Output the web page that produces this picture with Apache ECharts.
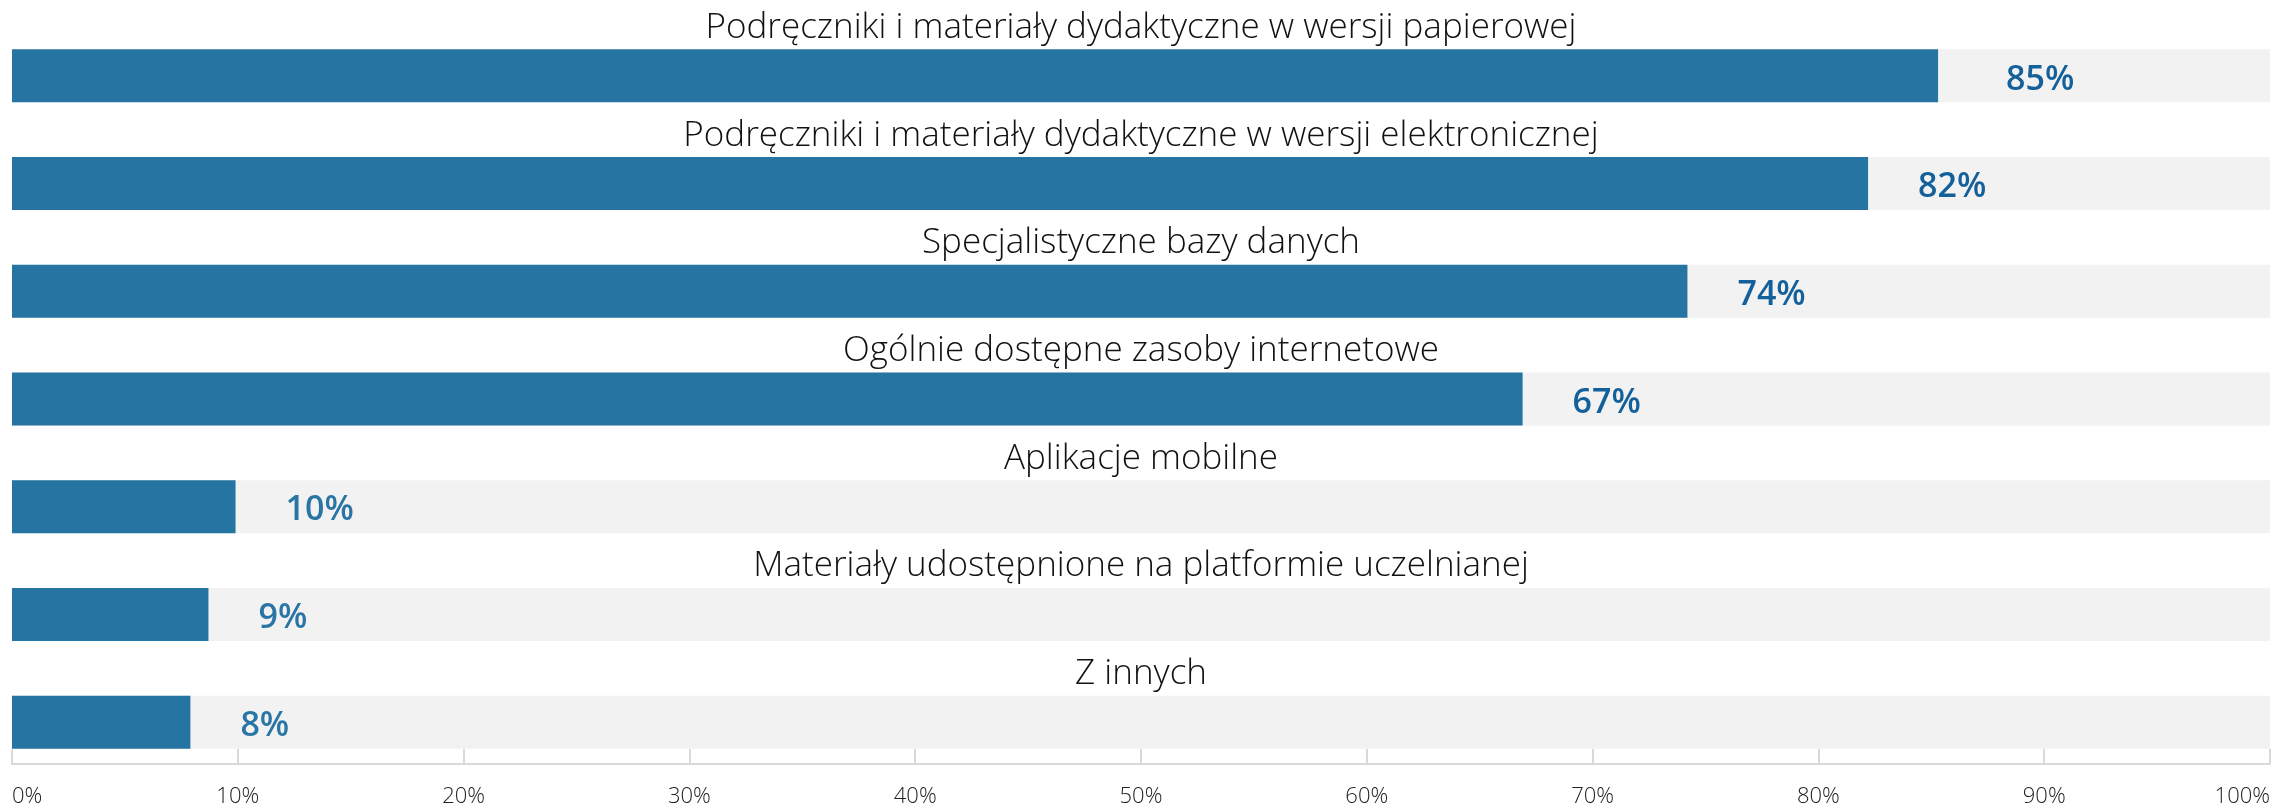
<!DOCTYPE html>
<html>
<head>
<meta charset="utf-8">
<script src="https://cdn.jsdelivr.net/npm/echarts@6/dist/echarts.min.js"></script>
<style>
html,body{margin:0;padding:0;background:#fff;}
#chart{width:2295px;height:808px;}
</style>
</head>
<body>
<div id="chart"></div>
<script>
var categories = [
  "Podręczniki i materiały dydaktyczne w wersji papierowej",
  "Podręczniki i materiały dydaktyczne w wersji elektronicznej",
  "Specjalistyczne bazy danych",
  "Ogólnie dostępne zasoby internetowe",
  "Aplikacje mobilne",
  "Materiały udostępnione na platformie uczelnianej",
  "Z innych"
];
var values = [85.3, 82.2, 74.2, 66.9, 9.9, 8.7, 7.9];
var valueLabels = ["85%", "82%", "74%", "67%", "10%", "9%", "8%"];
var fullScale = [100, 100, 100, 100, 100, 100, 100];
var xTicks = [0, 10, 20, 30, 40, 50, 60, 70, 80, 90, 100];

var darkLabel = "#14609a";
var lightLabel = "#2a75a6";

var chart = echarts.init(document.getElementById('chart'), null, {renderer: 'canvas'});
var option = {
  animation: false,
  grid: {left: 12, right: 25, top: 22, bottom: 30, containLabel: false},
  xAxis: {
    type: 'value', min: 0, max: 100, interval: 10,
    offset: -12,
    axisLine: {show: true, lineStyle: {color: '#d9d9d9', width: 2}},
    axisTick: {show: true, inside: true, length: 15, lineStyle: {color: '#d9d9d9', width: 2}},
    splitLine: {show: false},
    axisLabel: {
      formatter: function (v) { return xTicks.indexOf(v) >= 0 ? v + '%' : ''; },
      fontFamily: 'Open Sans', fontWeight: 300, fontSize: 22, color: '#222',
      margin: 22, alignMinLabel: 'left', alignMaxLabel: 'right'
    }
  },
  yAxis: {
    type: 'category', data: categories, inverse: true,
    axisLine: {show: false}, axisTick: {show: false}, axisLabel: {show: false}
  },
  series: [
    {
      type: 'bar', data: fullScale, barWidth: 53, silent: true,
      itemStyle: {color: '#f2f2f2'},
      label: {
        show: true, position: 'top', distance: 4,
        formatter: function (p) { return categories[p.dataIndex]; },
        fontFamily: 'Open Sans', fontWeight: 300, fontSize: 35, color: '#111'
      },
      z: 1
    },
    {
      type: 'bar', barGap: '-100%', barWidth: 53,
      itemStyle: {color: '#2674a1'},
      data: values.map(function (v, i) {
        return {
          value: v,
          label: {color: i < 4 ? darkLabel : lightLabel, distance: i === 0 ? 68 : 50}
        };
      }),
      label: {
        show: true, position: 'right', distance: 50, offset: [0, 4],
        formatter: function (p) { return valueLabels[p.dataIndex]; },
        fontFamily: 'Open Sans', fontWeight: 600, fontSize: 34
      },
      z: 2
    }
  ]
};
chart.setOption(option);
</script>
</body>
</html>
